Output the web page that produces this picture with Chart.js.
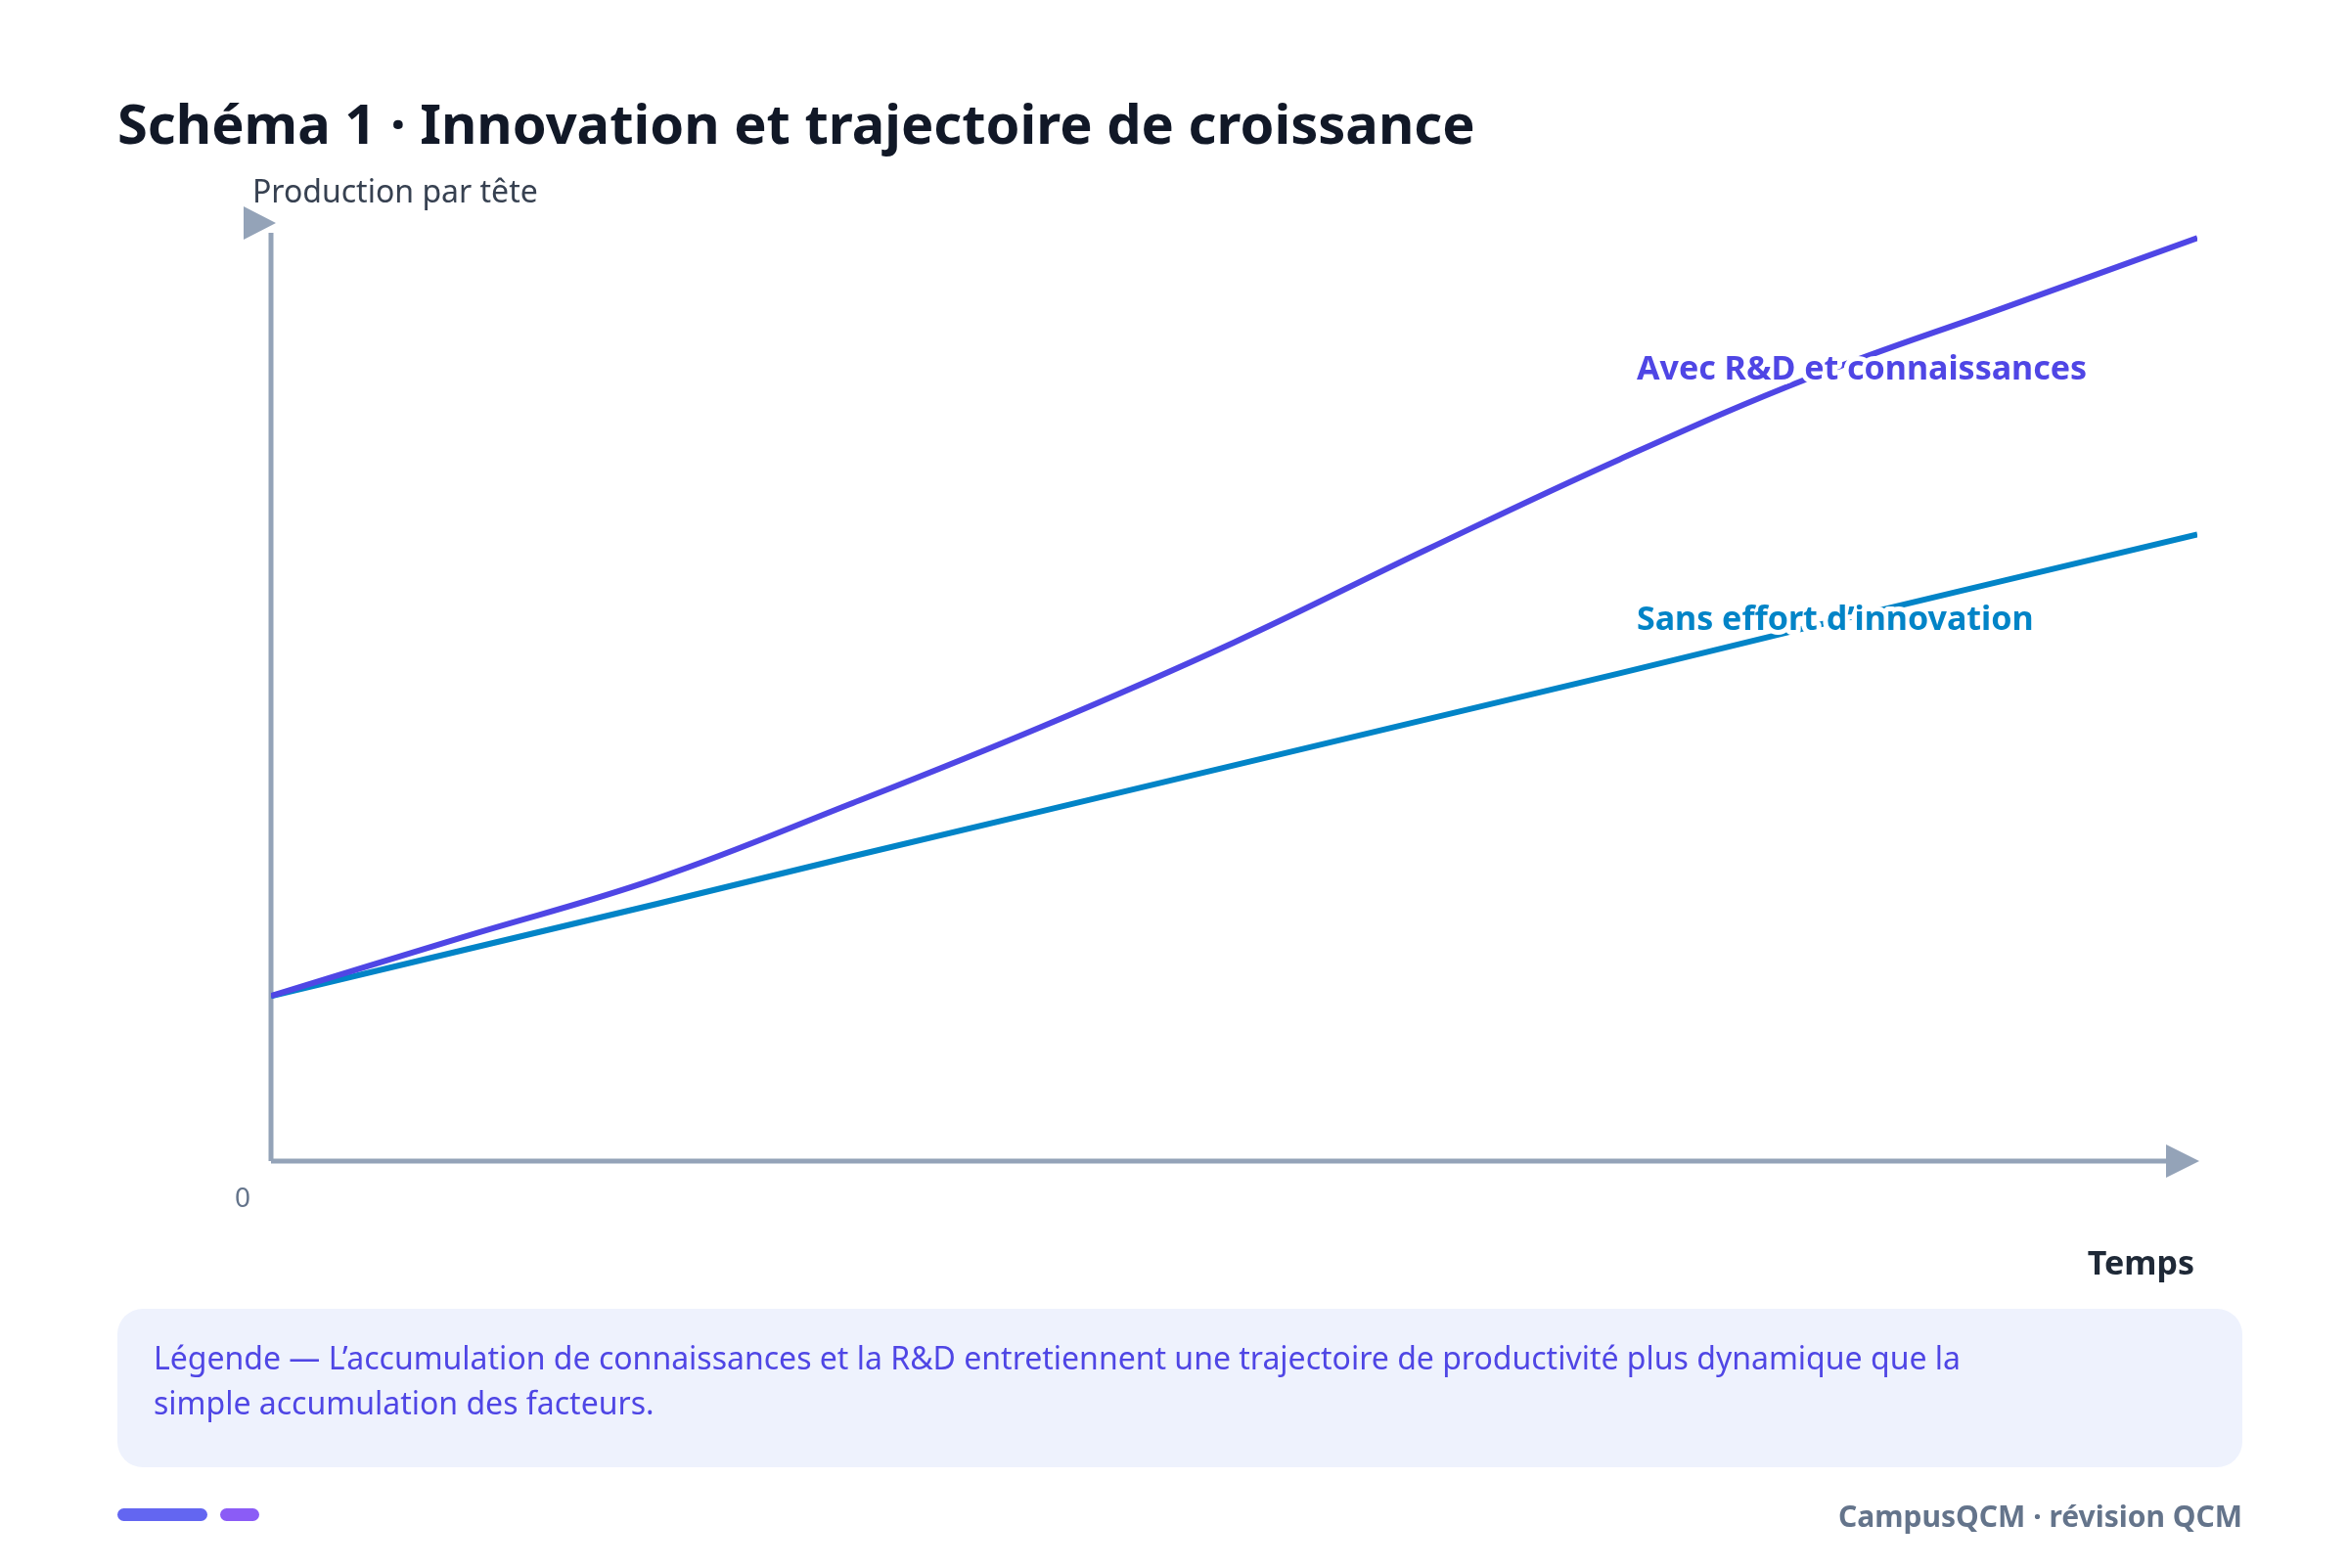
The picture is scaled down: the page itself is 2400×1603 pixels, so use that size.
<!DOCTYPE html>
<html><head><meta charset="utf-8">
<script src="https://cdn.jsdelivr.net/npm/chart.js@4"></script>
<style>html,body{margin:0;padding:0;background:#fff;overflow:hidden}</style>
</head><body>
<canvas id="c" width="2400" height="1603"></canvas>
<script>
const years = [0, 1, 2, 3, 4, 5, 6, 7, 8, 9, 10];
const avecRD = [17.6, 23.9, 30.1, 38.0, 46.3, 55.3, 65.2, 74.8, 83.6, 91.0, 98.4];
const sansInnovation = [17.6, 22.5, 27.4, 32.4, 37.3, 42.2, 47.1, 52.0, 57.0, 61.9, 66.8];
const seriesLabels = ['Avec R&D et connaissances', 'Sans effort d\u2019innovation'];

const F = '"Noto Sans", "Open Sans", sans-serif';

const decor = {
  id: 'decor',
  beforeDatasetsDraw(chart) {
    const ctx = chart.ctx, a = chart.chartArea;
    const x = chart.scales.x, y = chart.scales.y;
    const x0 = x.getPixelForValue(0), y0 = y.getPixelForValue(0);
    ctx.save();
    ctx.strokeStyle = '#94a3b8'; ctx.fillStyle = '#94a3b8'; ctx.lineWidth = 5;
    ctx.beginPath(); ctx.moveTo(x0, y0); ctx.lineTo(x0, a.top + 10); ctx.stroke();
    ctx.beginPath(); ctx.moveTo(x0, y0); ctx.lineTo(a.right - 20, y0); ctx.stroke();
    ctx.beginPath(); ctx.moveTo(a.right + 2, y0); ctx.lineTo(a.right - 32, y0 - 17); ctx.lineTo(a.right - 32, y0 + 17); ctx.fill();
    ctx.beginPath(); ctx.moveTo(x0 + 5, a.top); ctx.lineTo(x0 - 28, a.top - 17); ctx.lineTo(x0 - 28, a.top + 17); ctx.closePath(); ctx.fill();
    ctx.restore();
  },
  afterDraw(chart) {
    const ctx = chart.ctx, a = chart.chartArea;
    ctx.save();
    ctx.textBaseline = 'alphabetic';
    ctx.fillStyle = '#111827'; ctx.font = 'bold 56px ' + F; ctx.textAlign = 'left';
    ctx.fillText('Sch\u00e9ma 1 \u00b7 Innovation et trajectoire de croissance', 120, 147);
    ctx.fillStyle = '#374151'; ctx.font = '32px ' + F;
    ctx.fillText('Production par t\u00eate', 258, 207);
    ctx.fillStyle = '#64748b'; ctx.font = '28px ' + F;
    ctx.fillText('0', 240, 1234);
    ctx.fillStyle = '#1f2937'; ctx.font = 'bold 34px ' + F; ctx.textAlign = 'right';
    ctx.fillText('Temps', 2243, 1303);
    // series labels with white halo
    ctx.textAlign = 'left'; ctx.font = 'bold 34px ' + F; ctx.textBaseline = 'middle';
    ctx.lineWidth = 10; ctx.strokeStyle = '#fff'; ctx.lineJoin = 'round';
    [[seriesLabels[0], '#4f46e5', 378], [seriesLabels[1], '#0284c7', 634]].forEach(([t, c, yy]) => {
      ctx.strokeText(t, 1673, yy); ctx.fillStyle = c; ctx.fillText(t, 1673, yy);
    });
    // legend box
    ctx.fillStyle = '#eef2fd';
    ctx.beginPath(); ctx.roundRect(120, 1338, 2172, 162, 26); ctx.fill();
    ctx.fillStyle = '#4f46e5'; ctx.font = '32px ' + F; ctx.textBaseline = 'alphabetic';
    ctx.fillText('L\u00e9gende \u2014 L\u2019accumulation de connaissances et la R&D entretiennent une trajectoire de productivit\u00e9 plus dynamique que la', 157, 1400);
    ctx.fillText('simple accumulation des facteurs.', 157, 1446);
    // footer
    ctx.fillStyle = '#6366f1'; ctx.beginPath(); ctx.roundRect(120, 1542, 92, 13, 6.5); ctx.fill();
    ctx.fillStyle = '#8b5cf6'; ctx.beginPath(); ctx.roundRect(225, 1542, 40, 13, 6.5); ctx.fill();
    ctx.fillStyle = '#64748b'; ctx.font = 'bold 30px ' + F; ctx.textAlign = 'right';
    ctx.fillText('CampusQCM \u00b7 r\u00e9vision QCM', 2292, 1561);
    ctx.restore();
  }
};

new Chart(document.getElementById('c'), {
  type: 'line',
  data: {
    labels: years,
    datasets: [
      { label: seriesLabels[0], data: avecRD, borderColor: '#4f46e5', borderWidth: 6, pointRadius: 0, tension: 0.4 },
      { label: seriesLabels[1], data: sansInnovation, borderColor: '#0284c7', borderWidth: 6, pointRadius: 0, tension: 0 }
    ]
  },
  options: {
    responsive: false, devicePixelRatio: 1, animation: false,
    layout: { padding: { left: 277, right: 154, top: 228, bottom: 416 } },
    plugins: { legend: { display: false }, tooltip: { enabled: false } },
    scales: {
      x: { type: 'linear', min: 0, max: 10, display: false },
      y: { min: 0, max: 100, display: false }
    }
  },
  plugins: [decor]
});
</script>
</body></html>
